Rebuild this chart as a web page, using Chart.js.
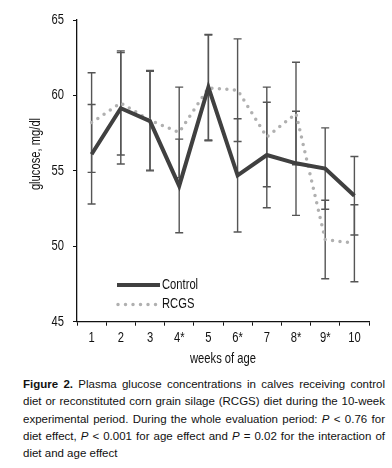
<!DOCTYPE html>
<html>
<head>
<meta charset="utf-8">
<script src="https://cdn.jsdelivr.net/npm/chart.js@4/dist/chart.umd.min.js"></script>
<style>
  html, body { margin: 0; padding: 0; background: #fff; }
  #wrap { position: relative; width: 392px; height: 468px; }
  #c { position: absolute; left: 0; top: 0; }
  #cap { position: absolute; left: 23px; top: 376px; width: 362px;
         font-family: "Liberation Sans", Arial, sans-serif; font-size: 11.5px;
         line-height: 17.3px; color: #111; text-align: justify; }
</style>
</head>
<body>
<div id="wrap">
  <canvas id="c" width="392" height="372"></canvas>
  <div id="cap"><b>Figure 2.</b> Plasma glucose concentrations in calves receiving control diet or reconstituted corn grain silage (RCGS) diet during the 10-week experimental period. During the whole evaluation period: <i>P</i> &lt; 0.76 for diet effect, <i>P</i> &lt; 0.001 for age effect and <i>P</i> = 0.02 for the interaction of diet and age effect</div>
</div>
<script>
const weeks = ["1", "2", "3", "4*", "5", "6*", "7", "8*", "9*", "10"];
const control = [56.1, 59.15, 58.3, 54.0, 60.55, 54.7, 56.05, 55.5, 55.15, 53.35];
const controlSE = [3.3, 3.7, 3.3, 3.1, 3.5, 3.75, 3.5, 3.45, 2.7, 2.6];
const rcgs = [58.2, 59.5, 58.35, 57.55, 60.5, 60.35, 57.25, 58.8, 50.45, 50.2];
const rcgsSE = [3.3, 3.45, 3.3, 3.0, 3.5, 3.4, 3.3, 3.4, 2.6, 2.55];
const yTicks = [45, 50, 55, 60, 65];

const FONT = '"Liberation Sans Narrow", "Arial Narrow", "Liberation Sans", Arial, sans-serif';
const SX = 0.8; // horizontal condensing to imitate a narrow face

function narrowText(ctx, text, x, y, align, rot) {
  ctx.save();
  ctx.translate(x, y);
  if (rot) ctx.rotate(rot);
  ctx.scale(SX, 1);
  ctx.font = '14px ' + FONT;
  ctx.fillStyle = '#111';
  ctx.textAlign = align;
  ctx.textBaseline = 'middle';
  ctx.fillText(text, 0, 0);
  ctx.restore();
}

const errorBars = {
  id: 'errorBars',
  beforeDatasetsDraw(chart) {
    const ctx = chart.ctx;
    const xs = chart.scales.x, ys = chart.scales.y;
    ctx.save();
    ctx.strokeStyle = '#555';
    ctx.lineWidth = 1.4;
    chart.data.datasets.forEach(ds => {
      ds.data.forEach((v, i) => {
        const se = ds.se[i];
        const x = xs.getPixelForValue(i);
        const yt = ys.getPixelForValue(v + se);
        const yb = ys.getPixelForValue(v - se);
        ctx.beginPath();
        ctx.moveTo(x, yt); ctx.lineTo(x, yb);
        ctx.moveTo(x - 4, yt); ctx.lineTo(x + 4, yt);
        ctx.moveTo(x - 4, yb); ctx.lineTo(x + 4, yb);
        ctx.stroke();
      });
    });
    ctx.restore();
  }
};

const extras = {
  id: 'extras',
  afterDraw(chart) {
    const ctx = chart.ctx;
    const xs = chart.scales.x, ys = chart.scales.y;
    const ca = chart.chartArea;
    // tick labels (drawn from the scales)
    xs.ticks.forEach((t, i) => {
      narrowText(ctx, weeks[i], xs.getPixelForValue(i), ca.bottom + 16.5, 'center');
    });
    ys.ticks.forEach(t => {
      narrowText(ctx, String(t.value), ca.left - 13, ys.getPixelForValue(t.value), 'right');
    });
    // axis titles
    narrowText(ctx, 'weeks of age', (ca.left + ca.right) / 2, ca.bottom + 37, 'center');
    narrowText(ctx, 'glucose, mg/dl', 36, 154, 'center', -Math.PI / 2);

    // legend
    ctx.save();
    ctx.strokeStyle = '#404040';
    ctx.lineWidth = 4;
    ctx.beginPath();
    ctx.moveTo(117, 285); ctx.lineTo(160, 285);
    ctx.stroke();
    ctx.strokeStyle = '#b0b0b0';
    ctx.lineWidth = 3.5;
    ctx.lineCap = 'round';
    ctx.setLineDash([0, 7.5]);
    ctx.beginPath();
    ctx.moveTo(118, 304.5); ctx.lineTo(156, 304.5);
    ctx.stroke();
    ctx.restore();
    narrowText(ctx, 'Control', 162, 285, 'left');
    narrowText(ctx, 'RCGS', 162, 304.5, 'left');
  }
};

new Chart(document.getElementById('c'), {
  type: 'line',
  data: {
    labels: weeks,
    datasets: [
      { label: 'Control', data: control, se: controlSE, borderColor: '#404040', borderWidth: 4,
        pointRadius: 0, tension: 0, fill: false, borderJoinStyle: 'miter' },
      { label: 'RCGS', data: rcgs, se: rcgsSE, borderColor: '#b0b0b0', borderWidth: 3.5,
        borderDash: [0, 7.5], borderCapStyle: 'round', pointRadius: 0, tension: 0, fill: false }
    ]
  },
  options: {
    responsive: false,
    animation: false,
    layout: { padding: { left: 0, right: 23, top: 20, bottom: 0 } },
    plugins: { legend: { display: false }, tooltip: { enabled: false } },
    scales: {
      x: {
        offset: true,
        grid: { display: true, offset: true, drawOnChartArea: false, drawTicks: true, tickLength: 4, color: '#111', lineWidth: 1 },
        border: { display: true, color: '#111', width: 1.3 },
        ticks: { display: false, autoSkip: false },
        afterFit(s) { s.height = 50.3; }
      },
      y: {
        min: 45, max: 65,
        afterBuildTicks(s) { s.ticks = yTicks.map(v => ({ value: v })); },
        grid: { display: true, drawOnChartArea: false, drawTicks: true, tickLength: 4, color: '#111', lineWidth: 1 },
        border: { display: true, color: '#111', width: 1.3 },
        ticks: { display: false },
        afterFit(s) { s.width = 77; }
      }
    }
  },
  plugins: [errorBars, extras]
});
</script>
</body>
</html>
